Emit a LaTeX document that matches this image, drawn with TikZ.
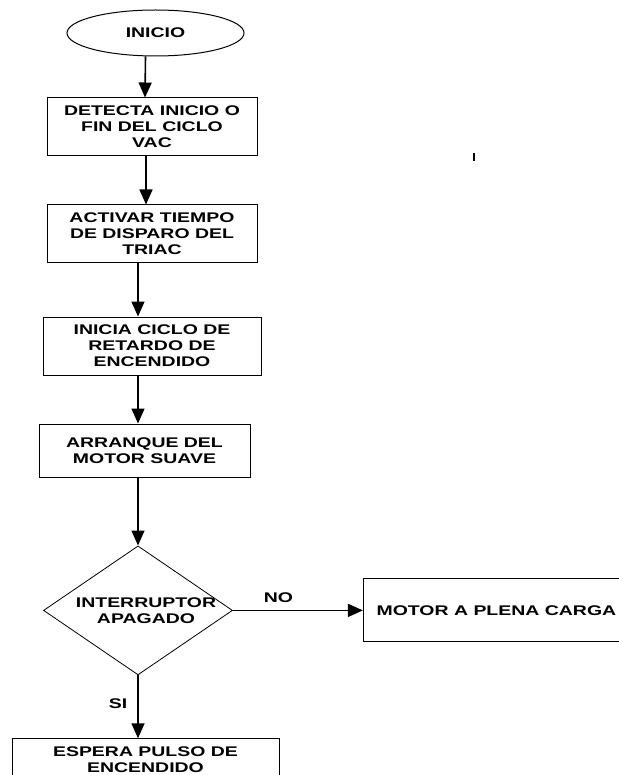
\documentclass[tikz,border=0pt]{standalone}
\usepackage{fontspec}
\setmainfont{Liberation Sans}[FakeStretch=1.39]
\usetikzlibrary{positioning, shapes.geometric, arrows.meta}
\newcommand{\flowfont}{\fontsize{14}{16}\selectfont\bfseries}
\tikzset {
  terminal/.style = {draw, line width=1pt, ellipse, fill=white, text centered, font=\flowfont, minimum width=177pt, minimum height=46pt},
  box/.style = {draw, line width=1pt, rectangle, fill=white, align=center, font=\flowfont, inner sep=2pt},
  decision/.style = {draw, line width=0.8pt, diamond, fill=white, inner sep=0pt, minimum width=189pt, minimum height=129pt},
  line/.style = {->, line width=1.6pt, color=black, >={Triangle[length=15pt, width=13pt]}},
  tag/.style = {font=\flowfont, inner sep=2pt}
}

\begin{document}
\begin{tikzpicture}[x=1pt, y=1pt, node distance=48pt]
    \path[use as bounding box, fill=white] (0,0) rectangle (618,-775);

    \node[terminal, name=ini] (ini) at (155.5,-33) {INICIO};
    \node[box, name=det, minimum width=210pt, minimum height=58pt, below=41pt of ini, xshift=-3.5pt] (det) {DETECTA INICIO O\\FIN DEL CICLO\\VAC};
    \node[box, name=act, minimum width=210pt, minimum height=58pt, below=of det] (act) {ACTIVAR TIEMPO\\DE DISPARO DEL\\TRIAC};
    \node[box, name=ret, minimum width=218pt, minimum height=58pt, below=53pt of act] (ret) {INICIA CICLO DE\\RETARDO DE\\ENCENDIDO};
    \node[box, name=arr, minimum width=211pt, minimum height=53pt, below=of ret, xshift=-7.5pt] (arr) {ARRANQUE DEL\\MOTOR SUAVE};
    \node[decision, name=sw, below=68pt of arr, xshift=-6.5pt, label={[tag, align=center, xshift=8pt]center:{INTERRUPTOR\\APAGADO}}] (sw) {};
    \node[box, name=motor, minimum width=266pt, minimum height=63pt, right=130pt of sw] (motor) {MOTOR A PLENA CARGA};
    \node[box, name=esp, minimum width=267pt, minimum height=42pt, below=63pt of sw, xshift=7.5pt] (esp) {ESPERA PULSO DE\\ENCENDIDO};

    \draw[line] ([xshift=-10pt]ini.south) -- ([xshift=-7pt]det.north);
    \draw[line] ([xshift=-6pt]det.south) -- ([xshift=-6pt]act.north);
    \draw[line] ([xshift=-14pt]act.south) -- ([xshift=-14pt]ret.north);
    \draw[line] ([xshift=-14pt]ret.south) -- ([xshift=-6.5pt]arr.north);
    \draw[line] ([xshift=-6.5pt]arr.south) -- (sw.north);
    \draw[line] (sw.east) -- node[tag, above=5pt, pos=0.35] {NO} (motor.west);
    \draw[line] (sw.south) -- node[tag, left=8pt, pos=0.45] {SI} (sw.south |- esp.north);

    % small stray mark
    \draw[line width=1.6pt] (474,-153) -- (474,-161);
\end{tikzpicture}
\end{document}
